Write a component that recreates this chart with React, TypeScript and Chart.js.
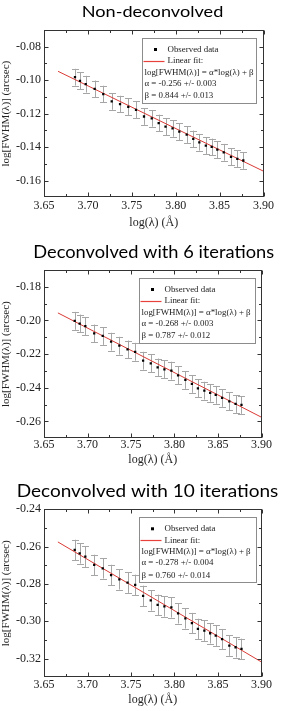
import React, { useEffect, useRef } from 'react';
import { Chart, registerables } from 'chart.js';

Chart.register(...registerables);

// ---------------- data ----------------
const logLambda = [
  3.6853, 3.691, 3.6975, 3.7077, 3.7175, 3.7271, 3.7366, 3.746, 3.7548, 3.7639, 3.7727, 3.7806, 3.7884,
  3.7964, 3.8041, 3.8125, 3.82, 3.8269, 3.8343, 3.841, 3.8474, 3.8547, 3.863, 3.8702, 3.877,
];

const fwhmNonDeconvolved = [
  -0.0982, -0.1004, -0.1024, -0.1052, -0.1083, -0.1127, -0.1143, -0.1159, -0.1177, -0.1217, -0.1228, -0.1256, -0.1278,
  -0.1288, -0.1308, -0.1325, -0.1351, -0.1371, -0.1391, -0.1399, -0.1415, -0.1431, -0.1458, -0.147, -0.148,
];
const fwhmDeconv6 = [
  -0.2002, -0.2018, -0.2033, -0.2077, -0.2092, -0.2126, -0.215, -0.2172, -0.2186, -0.2239, -0.2255, -0.2279, -0.229,
  -0.2298, -0.2326, -0.2353, -0.2377, -0.2403, -0.2417, -0.243, -0.2442, -0.246, -0.248, -0.2496, -0.2502,
];
const fwhmDeconv10 = [
  -0.2618, -0.2636, -0.2654, -0.2698, -0.2716, -0.2752, -0.2775, -0.2793, -0.2805, -0.2864, -0.2888, -0.2912, -0.292,
  -0.2925, -0.2957, -0.2984, -0.301, -0.3041, -0.305, -0.3064, -0.3077, -0.3096, -0.313, -0.3139, -0.3148,
];

const errNonDeconvolved = [
  0.005, 0.005, 0.005, 0.005, 0.005, 0.005, 0.005, 0.005, 0.005, 0.005, 0.005, 0.005, 0.005,
  0.005, 0.005, 0.005, 0.005, 0.005, 0.005, 0.005, 0.005, 0.005, 0.005, 0.005, 0.005,
];
const errDeconv6 = [
  0.0053, 0.0053, 0.0053, 0.0053, 0.0053, 0.0053, 0.0053, 0.0053, 0.0053, 0.0053, 0.0053, 0.0053, 0.0053,
  0.0053, 0.0053, 0.0053, 0.0053, 0.0053, 0.0053, 0.0053, 0.0053, 0.0053, 0.0053, 0.0053, 0.0053,
];
const errDeconv10 = [
  0.0055, 0.0055, 0.0055, 0.0055, 0.0055, 0.0055, 0.0055, 0.0055, 0.0055, 0.0055, 0.0055, 0.0055, 0.0055,
  0.0055, 0.0055, 0.0055, 0.0055, 0.0055, 0.0055, 0.0055, 0.0055, 0.0055, 0.0055, 0.0055, 0.0055,
];

const fitX = [3.666, 3.9];
const fitNonDeconvolved = [-0.0947, -0.1544];
const fitDeconv6 = [-0.1955, -0.2575];
const fitDeconv10 = [-0.2575, -0.3218];

const xTicks = [3.65, 3.7, 3.75, 3.8, 3.85, 3.9];
const yTicksNonDeconvolved = [-0.16, -0.14, -0.12, -0.1, -0.08];
const yTicksDeconv6 = [-0.26, -0.24, -0.22, -0.2, -0.18];
const yTicksDeconv10 = [-0.32, -0.3, -0.28, -0.26, -0.24];

const titles = ['Non-deconvolved', 'Deconvolved with 6 iterations', 'Deconvolved with 10 iterations'];
const xTitle = 'log(λ) (Å)';
const yTitle = 'log[FWHM(λ)] (arcsec)';
const legendObserved = 'Observed data';
const legendFit = 'Linear fit:';
const legendFormula = 'log[FWHM(λ)] = α*log(λ) + β';
const legendAlpha = ['α = -0.256 +/- 0.003', 'α = -0.268 +/- 0.003', 'α = -0.278 +/- 0.004'];
const legendBeta = ['β = 0.844 +/- 0.013', 'β = 0.787 +/- 0.012', 'β = 0.760 +/- 0.014'];

// ---------------- layout / style ----------------
const SERIF = "'Liberation Serif', 'Times New Roman', serif";
const SANS = "Lato, 'Open Sans', sans-serif";

type Layout = { top: number; height: number; pt: number; pb: number; right: number; lc: number; xc: number };
type TitleStyle = { size: number; width: number; cx: number; baseline: number };
type LegendStyle = { leftOff: number; width: number };

const panels = [
  {
    title: titles[0], y: fwhmNonDeconvolved, err: errNonDeconvolved, fit: fitNonDeconvolved,
    yMin: -0.17, yMax: -0.07, yTicks: yTicksNonDeconvolved, alpha: legendAlpha[0], beta: legendBeta[0],
    layout: { top: 0, height: 237, pt: 30, pb: 197.3, right: 263.5, lc: 206, xc: 223 } as Layout,
    titleStyle: { size: 16, width: 141.6, cx: 152.5, baseline: 17 } as TitleStyle,
    legendStyle: { leftOff: 97.5, width: 114.5 } as LegendStyle,
  },
  {
    title: titles[1], y: fwhmDeconv6, err: errDeconv6, fit: fitDeconv6,
    yMin: -0.27, yMax: -0.17, yTicks: yTicksDeconv6, alpha: legendAlpha[1], beta: legendBeta[1],
    layout: { top: 237, height: 237, pt: 33, pb: 201.3, right: 261.5, lc: 208, xc: 223 } as Layout,
    titleStyle: { size: 16.8, width: 240.7, cx: 153.7, baseline: 20.6 } as TitleStyle,
    legendStyle: { leftOff: 95, width: 116 } as LegendStyle,
  },
  {
    title: titles[2], y: fwhmDeconv10, err: errDeconv10, fit: fitDeconv10,
    yMin: -0.33, yMax: -0.24, yTicks: yTicksDeconv10, alpha: legendAlpha[2], beta: legendBeta[2],
    layout: { top: 474, height: 237, pt: 35.3, pb: 203.3, right: 261.5, lc: 211, xc: 226 } as Layout,
    titleStyle: { size: 17.3, width: 261.6, cx: 147.5, baseline: 23 } as TitleStyle,
    legendStyle: { leftOff: 95, width: 117 } as LegendStyle,
  },
];

const AXIS_TITLE_SIZE = 12;
const Y_TITLE_SIZE = 11;
const TICK_SIZE = 12;
const LEGEND_SIZE = 8.9;

function minorValues(majors: number[], min: number, max: number) {
  const out: number[] = [];
  const step = majors[1] - majors[0];
  const first = majors[0] - step / 2;
  if (first > min + 1e-9) out.push(first);
  for (let i = 0; i < majors.length - 1; i++) out.push((majors[i] + majors[i + 1]) / 2);
  const last = majors[majors.length - 1] + step / 2;
  if (last < max - 1e-9) out.push(last);
  return out;
}

const panelTitlePlugin = {
  id: 'panelTitle',
  afterDraw(chart: any, _args: any, opts: any) {
    const { ctx } = chart;
    const st: TitleStyle = opts.style;
    ctx.save();
    ctx.font = `${st.size}px ${SANS}`;
    ctx.fillStyle = '#000000';
    ctx.textAlign = 'center';
    ctx.textBaseline = 'alphabetic';
    const w = ctx.measureText(opts.text).width || 1;
    ctx.translate(st.cx, st.baseline);
    ctx.scale(st.width / w, 1);
    ctx.fillText(opts.text, 0, 0);
    ctx.restore();
  },
};

const errorBarPlugin = {
  id: 'errorBars',
  beforeDatasetsDraw(chart: any, _args: any, opts: any) {
    const { ctx, scales } = chart;
    const xs = scales.x, ys = scales.y;
    const err: number[] = opts.err || [];
    const data = chart.data.datasets[0].data as { x: number; y: number }[];
    ctx.save();
    ctx.strokeStyle = '#a6a6a6';
    ctx.lineWidth = 1;
    data.forEach((p, i) => {
      const e = err[i] || 0;
      const px = Math.round(xs.getPixelForValue(p.x)) + 0.5;
      const y1 = ys.getPixelForValue(p.y + e);
      const y2 = ys.getPixelForValue(p.y - e);
      const cap = 3.5;
      ctx.beginPath();
      ctx.moveTo(px, y1);
      ctx.lineTo(px, y2);
      ctx.moveTo(px - cap, Math.round(y1) + 0.5);
      ctx.lineTo(px + cap, Math.round(y1) + 0.5);
      ctx.moveTo(px - cap, Math.round(y2) + 0.5);
      ctx.lineTo(px + cap, Math.round(y2) + 0.5);
      ctx.stroke();
    });
    ctx.restore();
  },
};

const framePlugin = {
  id: 'frame',
  afterDatasetsDraw(chart: any) {
    const { ctx, chartArea: a, scales } = chart;
    const xs = scales.x, ys = scales.y;
    ctx.save();
    ctx.strokeStyle = '#333333';
    ctx.lineWidth = 1;
    const L = Math.round(a.left) + 0.5, R = Math.round(a.right) - 0.5;
    const T = Math.round(a.top) + 0.5, B = Math.round(a.bottom) - 0.5;
    ctx.strokeRect(L, T, R - L, B - T);
    const xMaj = xs.ticks.map((t: any) => t.value);
    const yMaj = ys.ticks.map((t: any) => t.value);
    const xMin = minorValues(xMaj, xs.min, xs.max);
    const yMin = minorValues(yMaj, ys.min, ys.max);
    ctx.beginPath();
    const tickX = (v: number, len: number) => {
      const px = Math.round(xs.getPixelForValue(v)) + 0.5;
      ctx.moveTo(px, B); ctx.lineTo(px, B - len);
      ctx.moveTo(px, T); ctx.lineTo(px, T + len);
    };
    const tickY = (v: number, len: number) => {
      const py = Math.round(ys.getPixelForValue(v)) + 0.5;
      ctx.moveTo(L, py); ctx.lineTo(L + len, py);
      ctx.moveTo(R, py); ctx.lineTo(R - len, py);
    };
    xMaj.forEach((v: number) => tickX(v, 4));
    xMin.forEach((v: number) => tickX(v, 2.5));
    yMaj.forEach((v: number) => tickY(v, 4));
    yMin.forEach((v: number) => tickY(v, 2.5));
    ctx.stroke();
    ctx.restore();
  },
};

const legendBoxPlugin = {
  id: 'legendBox',
  afterDraw(chart: any, _args: any, opts: any) {
    const { ctx, chartArea: a } = chart;
    const ls: LegendStyle = opts.style;
    const left = Math.round(a.left + ls.leftOff) + 0.5;
    const right = Math.round(a.left + ls.leftOff + ls.width) + 0.5;
    const top = Math.round(a.top + 7.5) + 0.5;
    const bottom = Math.round(a.top + 73) + 0.5;
    ctx.save();
    ctx.fillStyle = '#ffffff';
    ctx.fillRect(left, top, right - left, bottom - top);
    ctx.strokeStyle = '#8c8c8c';
    ctx.lineWidth = 1;
    ctx.strokeRect(left, top, right - left, bottom - top);
    const rowY = [a.top + 19.5, a.top + 31.1, a.top + 42.2, a.top + 53.8, a.top + 65.9];
    ctx.font = `${LEGEND_SIZE}px ${SERIF}`;
    ctx.textBaseline = 'middle';
    ctx.textAlign = 'left';
    ctx.fillStyle = '#000000';
    ctx.fillRect(left + 11.5, rowY[0] - 1.5, 3, 3);
    ctx.fillStyle = '#222222';
    ctx.fillText(legendObserved, left + 25, rowY[0]);
    ctx.strokeStyle = '#e8403a';
    ctx.lineWidth = 1.2;
    ctx.beginPath();
    ctx.moveTo(left + 1, Math.round(rowY[1]) + 0.5);
    ctx.lineTo(left + 22, Math.round(rowY[1]) + 0.5);
    ctx.stroke();
    ctx.fillText(legendFit, left + 25, rowY[1]);
    ctx.fillText(legendFormula, left + 2, rowY[2]);
    ctx.fillText(opts.alpha, left + 2, rowY[3]);
    ctx.fillText(opts.beta, left + 2, rowY[4]);
    ctx.restore();
  },
};

function Panel({ p }: { p: (typeof panels)[number] }) {
  const ref = useRef<HTMLCanvasElement | null>(null);
  useEffect(() => {
    const L = p.layout;
    const axisLH = AXIS_TITLE_SIZE * 1.2;
    const chart = new Chart(ref.current as HTMLCanvasElement, {
      type: 'scatter',
      data: {
        datasets: [
          {
            label: legendObserved,
            data: logLambda.map((x, i) => ({ x, y: p.y[i] })),
            pointStyle: 'rect',
            pointRadius: 1.6,
            backgroundColor: '#000000',
            borderColor: '#000000',
            borderWidth: 0,
          },
          {
            label: legendFit,
            data: fitX.map((x, i) => ({ x, y: p.fit[i] })),
            showLine: true,
            pointRadius: 0,
            borderColor: '#d93a35',
            borderWidth: 1,
            backgroundColor: '#d93a35',
          },
        ],
      },
      options: {
        responsive: false,
        animation: false,
        devicePixelRatio: 1,
        events: [],
        layout: {
          padding: { top: L.pt, left: 0, right: 284 - L.right, bottom: L.height - (L.xc + axisLH / 2) },
        },
        plugins: {
          legend: { display: false },
          tooltip: { enabled: false },
          title: { display: false },
          panelTitle: { text: p.title, style: p.titleStyle },
          errorBars: { err: p.err },
          legendBox: { alpha: p.alpha, beta: p.beta, style: p.legendStyle },
        } as any,
        scales: {
          x: {
            type: 'linear',
            min: 3.65,
            max: 3.9,
            grid: { display: false, drawTicks: false },
            border: { display: false },
            afterBuildTicks: (s: any) => { s.ticks = xTicks.map((v) => ({ value: v })); },
            afterFit: (s: any) => { s.height = L.xc + axisLH / 2 - L.pb; },
            ticks: {
              padding: L.lc - L.pb - 7,
              color: '#222222',
              font: { family: SERIF, size: TICK_SIZE },
              maxRotation: 0,
              callback: (v: any) => Number(v).toFixed(2),
            },
            title: {
              display: true,
              text: xTitle,
              color: '#222222',
              font: { family: SERIF, size: AXIS_TITLE_SIZE, lineHeight: 1.2 },
              padding: 0,
            },
          },
          y: {
            type: 'linear',
            min: p.yMin,
            max: p.yMax,
            grid: { display: false, drawTicks: false },
            border: { display: false },
            afterBuildTicks: (s: any) => { s.ticks = p.yTicks.map((v) => ({ value: v })); },
            afterFit: (s: any) => { s.width = 44; },
            ticks: {
              padding: 3,
              color: '#222222',
              font: { family: SERIF, size: TICK_SIZE },
              callback: (v: any) => Number(v).toFixed(2),
            },
            title: {
              display: true,
              text: yTitle,
              color: '#222222',
              font: { family: SERIF, size: Y_TITLE_SIZE, lineHeight: 1.2 },
              padding: 0,
            },
          },
        },
      } as any,
      plugins: [errorBarPlugin, framePlugin, legendBoxPlugin, panelTitlePlugin],
    });
    return () => chart.destroy();
  }, [p]);
  const L = p.layout;
  return (
    <div style={{ position: 'absolute', left: 0, top: L.top, width: 284, height: L.height }}>
      <canvas ref={ref} width={284} height={L.height} style={{ width: 284, height: L.height, display: 'block' }} />
    </div>
  );
}

export default function App() {
  return (
    <div style={{ position: 'absolute', left: 0, top: 0, width: 284, height: 711, background: '#ffffff' }}>
      {panels.map((p, i) => (
        <Panel key={i} p={p} />
      ))}
    </div>
  );
}
